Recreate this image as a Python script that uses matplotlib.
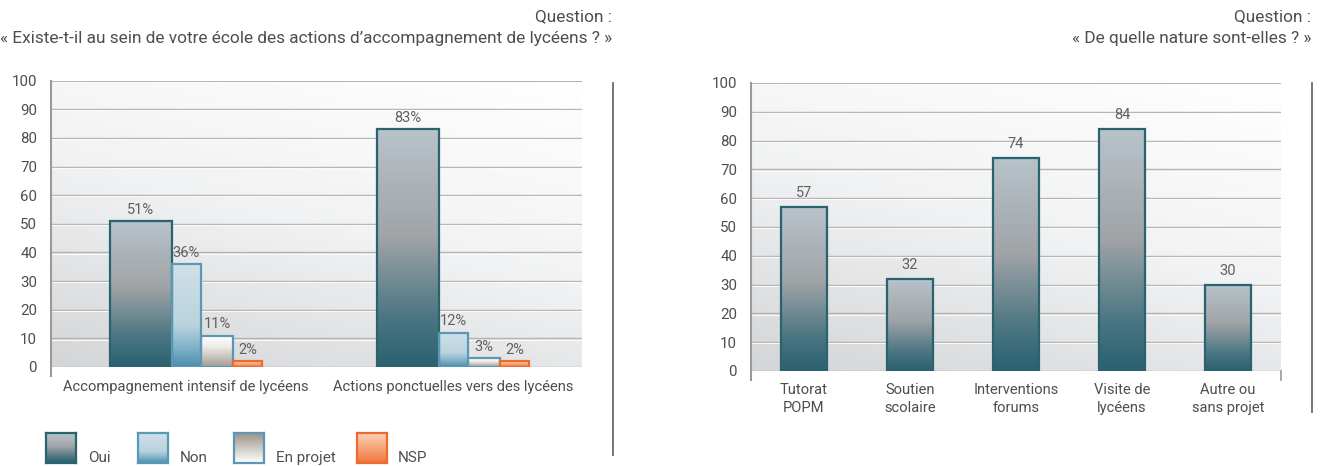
import numpy as np
import matplotlib
matplotlib.use('Agg')
import matplotlib.pyplot as plt
from matplotlib.colors import LinearSegmentedColormap
from matplotlib.lines import Line2D

plt.rcParams['font.family'] = ['Roboto', 'DejaVu Sans']

# data
groups = ['Accompagnement intensif de lycéens', 'Actions ponctuelles vers des lycéens']
series = ['Oui', 'Non', 'En projet', 'NSP']
oui = [51, 83]
non = [36, 12]
en_projet = [11, 3]
nsp = [2, 2]
labels_left = [['51%', '83%'], ['36%', '12%'], ['11%', '3%'], ['2%', '2%']]

nature_cats = ['Tutorat\nPOPM', 'Soutien\nscolaire', 'Interventions\nforums', 'Visite de\nlycéens', 'Autre ou\nsans projet']
nature_vals = [57, 32, 74, 84, 30]

# styles
grads = {
    'Oui': [(0, '#b8c3ca'), (0.45, '#a0a4a7'), (0.8, '#4a7582'), (1, '#2a6170')],
    'Non': [(0, '#d0e0e8'), (0.6, '#b9d3de'), (0.82, '#80b1c8'), (1, '#4b8dad')],
    'En projet': [(0, '#ffffff'), (0.35, '#efedea'), (1, '#a39b92')],
    'NSP': [(0, '#fbd3b8'), (1, '#f0763a')],
}
legend_grads = dict(grads)
legend_grads['En projet'] = [(0, '#9d948a'), (1, '#ffffff')]
edges = {'Oui': '#2b6270', 'Non': '#5a98b5', 'En projet': '#5a98b5', 'NSP': '#ee6a2f'}
text_col = '#4e4e4e'
val_col = '#606060'

fig = plt.figure(figsize=(13.2, 4.66), dpi=100)


def cmap_of(stops):
    return LinearSegmentedColormap.from_list('g', stops)


def background(ax):
    yy, xx = np.mgrid[0:1:200j, 0:1:200j]
    v = 0.75 * yy + 0.35 * (1 - xx)  # row 0 is top
    v = np.clip(v / v.max(), 0, 1)
    bg = LinearSegmentedColormap.from_list('bg', ['#ffffff', '#f1f2f3', '#d3d5d7'])
    ax.imshow(v, cmap=bg, extent=[0, 1, 0, 1], transform=ax.transAxes,
              aspect='auto', origin='upper', zorder=0)


def grad_bar(ax, x, h, w, stops, edge):
    bar = ax.bar(x, h, w, align='edge', facecolor='none', edgecolor=edge,
                 linewidth=1.6, zorder=4)[0]
    img = ax.imshow(np.linspace(0, 1, 256).reshape(-1, 1), cmap=cmap_of(stops),
                    extent=[x, x + w, 0, h], aspect='auto', origin='upper', zorder=3)
    img.set_clip_path(bar)
    return bar


def style_axes(ax, xmin, xmax):
    ax.set_xlim(xmin, xmax)
    ax.set_ylim(0, 100)
    for s in ax.spines.values():
        s.set_visible(False)
    ax.set_yticks(range(0, 101, 10))
    ax.tick_params(axis='y', length=0, pad=10, labelsize=10.8, labelcolor=text_col)
    ax.tick_params(axis='x', length=0, labelsize=10.6, labelcolor=text_col)
    for y in range(10, 101, 10):
        ax.axhline(y, color='#b3b3b3', linewidth=1, zorder=1)
        ax.axhline(y - 0.4, color='#fafafa', linewidth=0.8, zorder=1)
    ax.axhline(0, color='#b3b3b3', linewidth=1, zorder=2)
    ax.plot([xmin, xmin], [-3, 100], color='#9a9a9a', linewidth=1.5, clip_on=False, zorder=5)
    background(ax)


# ---- left chart
ax1 = fig.add_axes([51 / 1320, 1 - 367 / 466, 531 / 1320, (367 - 80.7) / 466])
widths = [0.232, 0.11, 0.12, 0.11]
vals = [oui, non, en_projet, nsp]
for gi in range(len(groups)):
    x = gi - 0.286
    for si, name in enumerate(series):
        h = vals[si][gi]
        grad_bar(ax1, x, h, widths[si], grads[name], edges[name])
        ax1.annotate(labels_left[si][gi], (x + widths[si] / 2, h), xytext=(0, 3),
                     textcoords='offset points', ha='center', va='bottom',
                     fontsize=10.5, color=val_col)
        x += widths[si]
style_axes(ax1, -0.506, 1.483)
ax1.set_xticks(range(len(groups)))
ax1.set_xticklabels(groups)
ax1.tick_params(axis='x', pad=9)

# ---- right chart
ax2 = fig.add_axes([751 / 1320, 1 - 371 / 466, 530 / 1320, (371 - 83) / 466])
bw = 0.434
for i, v in enumerate(nature_vals):
    grad_bar(ax2, i - bw / 2, v, bw, grads['Oui'], edges['Oui'])
    ax2.annotate(str(v), (i, v), xytext=(0, 5), textcoords='offset points',
                 ha='center', va='bottom', fontsize=10.5, color=val_col)
style_axes(ax2, -0.5, 4.5)
ax2.set_xticks(range(len(nature_cats)))
ax2.set_xticklabels(nature_cats, linespacing=1.3)
ax2.tick_params(axis='x', pad=9)
ax2.plot([4.5, 4.5], [-3, 0], color='#9a9a9a', linewidth=1.2, clip_on=False, zorder=5)

# ---- titles
tfs = 12.4
fig.text(612 / 1320, 1 - 17 / 466, 'Question :', ha='right', va='center', fontsize=tfs, color=text_col)
fig.text(612 / 1320, 1 - 39 / 466, '« Existe-t-il au sein de votre école des actions d’accompagnement de lycéens ? »',
         ha='right', va='center', fontsize=tfs, color=text_col)
fig.text(1311 / 1320, 1 - 17 / 466, 'Question :', ha='right', va='center', fontsize=tfs, color=text_col)
fig.text(1311 / 1320, 1 - 39 / 466, '« De quelle nature sont-elles ? »',
         ha='right', va='center', fontsize=tfs, color=text_col)

# ---- separators
fig.add_artist(Line2D([613 / 1320] * 2, [1 - 83 / 466, 1 - 455 / 466], color='#6a6a6a', linewidth=1.3))
fig.add_artist(Line2D([1312 / 1320] * 2, [1 - 83 / 466, 1 - 412 / 466], color='#6a6a6a', linewidth=1.3))

# ---- legend
sq_x = [46, 138, 234, 357]
tx_x = [88, 180, 276, 398]
for name, sx, tx in zip(series, sq_x, tx_x):
    lax = fig.add_axes([sx / 1320, 1 - 463 / 466, 30 / 1320, 30 / 466])
    lax.imshow(np.linspace(0, 1, 64).reshape(-1, 1), cmap=cmap_of(legend_grads[name]),
               extent=[0, 1, 0, 1], aspect='auto', origin='upper')
    lax.set_xticks([])
    lax.set_yticks([])
    for s in lax.spines.values():
        s.set_color(edges[name])
        s.set_linewidth(1.6)
    fig.text(tx / 1320, 1 - 458 / 466, name, ha='left', va='center', fontsize=11, color=text_col)

fig.savefig('out.png', dpi=100)
